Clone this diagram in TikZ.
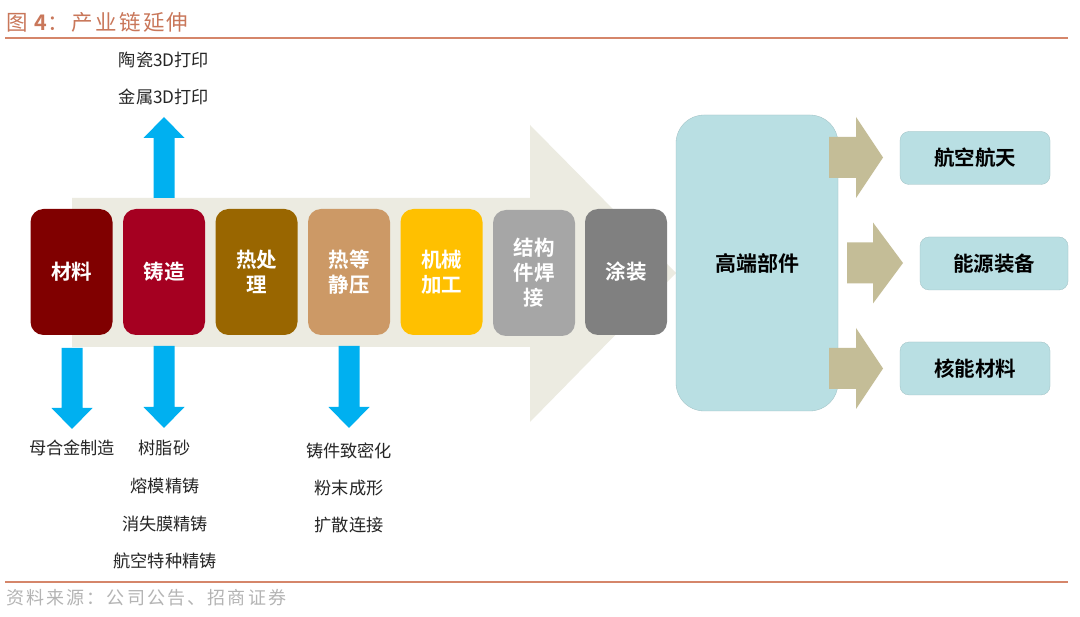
\documentclass[tikz,border=0pt]{standalone}
\usepackage{fontspec}
\setmainfont{Noto Sans CJK SC}
\newfontfamily\cjk{Noto Sans CJK SC}
\newfontfamily\cjkb{Noto Sans CJK SC Bold}
\newfontfamily\titlefont[LetterSpace=11]{Noto Sans CJK SC}
\newfontfamily\titleb[LetterSpace=11]{Noto Sans CJK SC Bold}
\newfontfamily\srcfont[LetterSpace=12]{Noto Sans CJK SC}
\definecolor{rulec}{HTML}{D5866A}
\definecolor{titlec}{HTML}{C9775A}
\definecolor{srcc}{HTML}{B4B4B4}
\definecolor{bigc}{HTML}{ECEBE1}
\definecolor{bluec}{HTML}{00B0F0}
\definecolor{tanc}{HTML}{C4BD97}
\definecolor{cyanc}{HTML}{B9DFE3}
\definecolor{txtc}{HTML}{262626}
\definecolor{s1}{HTML}{800000}
\definecolor{s2}{HTML}{A50021}
\definecolor{s3}{HTML}{996600}
\definecolor{s4}{HTML}{CC9966}
\definecolor{s5}{HTML}{FFC000}
\definecolor{s6}{HTML}{A6A6A6}
\definecolor{s7}{HTML}{808080}
\tikzset{
  x=1pt,y=-1pt,
  stepbox/.style={rounded corners=13pt,minimum width=82pt,minimum height=126pt,inner sep=0pt,
    align=center,text=white,font=\cjkb\fontsize{20.5}{25}\selectfont},
  goalbox/.style={fill=cyanc,draw=cyanc!85!black,line width=0.3pt,rounded corners=9pt,minimum width=150pt,minimum height=53pt,inner sep=0pt,
    font=\cjkb\fontsize{20.5}{24}\selectfont,text=black},
  lbl/.style={inner sep=0pt,font=\cjk\fontsize{17.2}{20}\selectfont,text=txtc},
  rulel/.style={draw=rulec,line width=2pt},
}
% base x, base y, length, half body, half head, head length, rotation, colour
\newcommand{\blockarrow}[8]{%
  \fill[#8,shift={(#1,#2)},rotate=#7] (0,-#4) -- ({#3-#6},-#4) -- ({#3-#6},-#5) -- (#3,0) -- ({#3-#6},#5) -- ({#3-#6},#4) -- (0,#4) -- cycle;}
\begin{document}
\begin{tikzpicture}
\useasboundingbox (0,0) rectangle (1080,617);
\fill[white] (0,0) rectangle (1080,617);
% title and rules
\node[anchor=west,inner sep=0pt,text=titlec,font=\titlefont\fontsize{21.5}{24}\selectfont] (title) at (6,22) {图 {\titleb 4}：产业链延伸};
\coordinate (r1a) at (5,38); \coordinate (r1b) at (1068,38);
\coordinate (r2a) at (5,582); \coordinate (r2b) at (1068,582);
\draw[rulel] (r1a) -- (r1b);
\draw[rulel] (r2a) -- (r2b);
\node[anchor=west,inner sep=0pt,text=srcc,font=\srcfont\fontsize{18}{20}\selectfont] (src) at (6,598) {资料来源：公司公告、招商证券};
% large background arrow
\fill[bigc] (72,198) -- (530,198) -- (530,125) -- (676,273) -- (530,422) -- (530,347) -- (72,347) -- cycle;
% blue arrows
\blockarrow{164}{198}{81}{10.5}{20.5}{21}{90}{bluec}
\blockarrow{72}{348}{81}{10.5}{20.5}{21}{-90}{bluec}
\blockarrow{164}{346}{82}{10.5}{20.5}{21}{-90}{bluec}
\blockarrow{349}{346}{82}{10.5}{20.5}{21}{-90}{bluec}
% process boxes
\node[stepbox,fill=s1] (b1) at (71.5,272) {材料};
\node[stepbox,fill=s2] (b2) at (164,272) {铸造};
\node[stepbox,fill=s3] (b3) at (256.5,272) {热处\\理};
\node[stepbox,fill=s4] (b4) at (349,272) {热等\\静压};
\node[stepbox,fill=s5] (b5) at (441.5,272) {机械\\加工};
\node[stepbox,fill=s6] (b6) at (534,273) {结构\\件焊\\接};
\node[stepbox,fill=s7] (b7) at (626,272) {涂装};
% high-end parts and tan arrows
\node[fill=cyanc,draw=cyanc!85!black,line width=0.3pt,rounded corners=28pt,minimum width=162pt,minimum height=296pt,inner sep=0pt,
  font=\cjkb\fontsize{21}{24}\selectfont,text=black] (core) at (757,263) {高端部件};
\blockarrow{829}{157.5}{54}{20.5}{40.5}{27}{0}{tanc}
\blockarrow{847}{263}{56}{20.5}{40.5}{30}{0}{tanc}
\blockarrow{829}{368.5}{54}{20.5}{40.5}{27}{0}{tanc}
\node[goalbox] (g1) at (975,158) {航空航天};
\node[goalbox,minimum width=148pt] (g2) at (994,263.5) {能源装备};
\node[goalbox] (g3) at (975,368.5) {核能材料};
% labels
\node[lbl] (t1) at (164,60) {陶瓷3D打印};
\node[lbl] (t2) at (164,97) {金属3D打印};
\node[lbl] (t3) at (72,448) {母合金制造};
\node[lbl] (t4) at (164.5,448) {树脂砂};
\node[lbl] (t5) at (165,486) {熔模精铸};
\node[lbl] (t6) at (165,523.5) {消失膜精铸};
\node[lbl] (t7) at (165,561) {航空特种精铸};
\node[lbl] (t8) at (349,451) {铸件致密化};
\node[lbl] (t9) at (349,488) {粉末成形};
\node[lbl] (t10) at (349,525.5) {扩散连接};
\end{tikzpicture}
\end{document}
